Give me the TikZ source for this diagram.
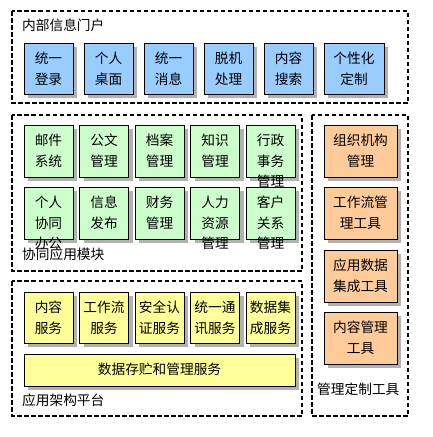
\documentclass[tikz,border=0pt]{standalone}
\usepackage{fontspec}
\setmainfont{Noto Sans CJK SC}
\usetikzlibrary{shadows}
\definecolor{cblue}{HTML}{99CCFF}
\definecolor{cgreen}{HTML}{CCFFCC}
\definecolor{cyellow}{HTML}{FFFF99}
\definecolor{corange}{HTML}{FFCC99}
\tikzset{
  dashbox/.style={draw=black, line width=1.5pt, dash pattern=on 4.5pt off 2.5pt},
  ubox/.style={draw=black, line width=0.8pt, inner sep=0pt,
    general shadow={fill=black!30, shadow xshift=4pt, shadow yshift=-4pt}},
  bluebox/.style={ubox, fill=cblue},
  greenbox/.style={ubox, fill=cgreen},
  yellowbox/.style={ubox, fill=cyellow},
  orangebox/.style={ubox, fill=corange},
  boxtext/.style={anchor=north, yshift=-9.3pt, align=center, inner sep=0pt,
    font=\fontsize{13.7}{20.5}\selectfont},
  grouplabel/.style={anchor=west, inner sep=0pt, font=\fontsize{13.7}{16}\selectfont}
}
% name, cx, cy, w, h, style, text
\newcommand\cbox[7]{%
  \node[#6, minimum width=#4pt, minimum height=#5pt,
    label={[boxtext]north:#7}] (#1) at (#2,#3) {};}
\begin{document}
\begin{tikzpicture}[x=1pt, y=-1pt]
\useasboundingbox (0,0) rectangle (433,437);
% group frames
\draw[dashbox] (12,11) rectangle (408,103);
\draw[dashbox] (12,115) rectangle (302,271);
\draw[dashbox] (12,281) rectangle (302,416);
\draw[dashbox] (312,115) rectangle (408,416);
% group labels
\node[grouplabel] (g1) at (22,25) {内部信息门户};
\node[grouplabel] (g2) at (22,254) {协同应用模块};
\node[grouplabel] (g3) at (22,400.5) {应用架构平台};
\node[grouplabel] (g4) at (317,389) {管理定制工具};
% portal
\cbox{p1}{48.5}{68.5}{49}{51}{bluebox}{统一\\登录}
\cbox{p2}{108.5}{68.5}{49}{51}{bluebox}{个人\\桌面}
\cbox{p3}{168.5}{68.5}{49}{51}{bluebox}{统一\\消息}
\cbox{p4}{228.5}{68.5}{49}{51}{bluebox}{脱机\\处理}
\cbox{p5}{288.5}{68.5}{49}{51}{bluebox}{内容\\搜索}
\cbox{p6}{354}{68.5}{60}{51}{bluebox}{个性化\\定制}
% collaboration row 1
\cbox{c1}{48.5}{151}{49}{52}{greenbox}{邮件\\系统}
\cbox{c2}{104}{151}{49}{52}{greenbox}{公文\\管理}
\cbox{c3}{159.5}{151}{49}{52}{greenbox}{档案\\管理}
\cbox{c4}{215}{151}{49}{52}{greenbox}{知识\\管理}
\cbox{c5}{270.5}{151}{49}{52}{greenbox}{行政\\事务\\管理}
% collaboration row 2
\cbox{c6}{48.5}{213}{49}{52}{greenbox}{个人\\协同\\办公}
\cbox{c7}{104}{213}{49}{52}{greenbox}{信息\\发布}
\cbox{c8}{159.5}{213}{49}{52}{greenbox}{财务\\管理}
\cbox{c9}{215}{213}{49}{52}{greenbox}{人力\\资源\\管理}
\cbox{c10}{270.5}{213}{49}{52}{greenbox}{客户\\关系\\管理}
% platform
\cbox{a1}{48.5}{317.5}{49}{51}{yellowbox}{内容\\服务}
\cbox{a2}{104}{317.5}{49}{51}{yellowbox}{工作流\\服务}
\cbox{a3}{159.5}{317.5}{49}{51}{yellowbox}{安全认\\证服务}
\cbox{a4}{215}{317.5}{49}{51}{yellowbox}{统一通\\讯服务}
\cbox{a5}{270.5}{317.5}{49}{51}{yellowbox}{数据集\\成服务}
\cbox{a6}{159.5}{370}{271}{32}{yellowbox}{数据存贮和管理服务}
% tools
\cbox{t1}{360.5}{151}{73}{52}{orangebox}{组织机构\\管理}
\cbox{t2}{360.5}{213}{73}{52}{orangebox}{工作流管\\理工具}
\cbox{t3}{360.5}{276}{73}{52}{orangebox}{应用数据\\集成工具}
\cbox{t4}{360.5}{338}{73}{52}{orangebox}{内容管理\\工具}
\end{tikzpicture}
\end{document}
